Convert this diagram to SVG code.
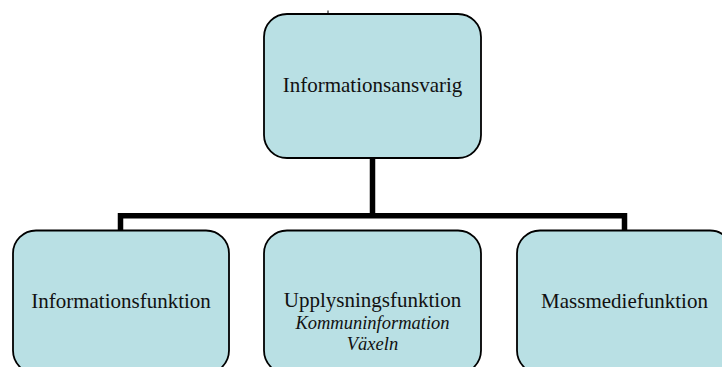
<svg xmlns="http://www.w3.org/2000/svg" width="722" height="367" viewBox="0 0 722 367">
<style>
.box{fill:#B9E0E4;stroke:#000;stroke-width:1.8}
.t{font-family:"Liberation Serif","Times New Roman",serif;font-size:21px;fill:#111;text-anchor:middle}
.i{font-family:"Liberation Serif","Times New Roman",serif;font-size:18.5px;font-style:italic;fill:#111;text-anchor:middle}
.c{fill:none;stroke:#000;stroke-width:5.5;stroke-linejoin:miter;stroke-linecap:butt}
</style>
<rect width="722" height="367" fill="#fff"/>
<g id="connectors">
<path class="c" d="M372.5 158 V215.8"/>
<path class="c" d="M120.5 231 V215.8 H624.5 V231"/>
<line x1="328" y1="10.5" x2="328" y2="14" stroke="#000" stroke-width="1"/>
</g>
<g id="informationsansvarig">
<rect class="box" x="264" y="14" width="217" height="144" rx="23" ry="23"/>
<text class="t" x="372.5" y="92">Informationsansvarig</text>
</g>
<g id="informationsfunktion">
<rect class="box" x="13" y="230.5" width="216" height="143" rx="23" ry="23"/>
<text class="t" x="121" y="308">Informationsfunktion</text>
</g>
<g id="upplysningsfunktion">
<rect class="box" x="264" y="230.5" width="217" height="143" rx="23" ry="23"/>
<text class="t" x="372.5" y="307">Upplysningsfunktion</text>
<text class="i" x="372.5" y="329">Kommuninformation</text>
<text class="i" x="372.5" y="350">Växeln</text>
</g>
<g id="massmediefunktion">
<rect class="box" x="517" y="230.5" width="216" height="143" rx="23" ry="23"/>
<text class="t" x="624.5" y="308">Massmediefunktion</text>
</g>
</svg>
